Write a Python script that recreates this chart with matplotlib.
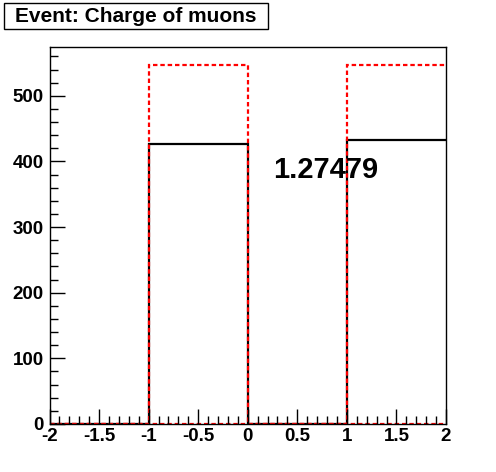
import matplotlib
matplotlib.use('Agg')
import matplotlib.pyplot as plt
from matplotlib.patches import Rectangle
from matplotlib.ticker import MultipleLocator, FuncFormatter
from matplotlib.transforms import ScaledTranslation

# histogram data: charge of muons, two samples
edges = [-2, -1, 0, 1, 2]
counts_black = [0, 427, 0, 432]
counts_red = [0, 547, 0, 547]
ratio_text = '1.27479'
title = 'Event: Charge of muons'

plt.rcParams['font.family'] = ['Liberation Sans', 'DejaVu Sans']
plt.rcParams['font.weight'] = 'bold'

fig = plt.figure(figsize=(4.96, 4.72), dpi=100)
ax = fig.add_axes([49.5 / 496, 48 / 472, (446 - 49.5) / 496, (424 - 47) / 472])

red_style = dict(color='#ff0000', linewidth=1.6, linestyle=(0, (2.0, 1.3)))
ax.stairs(counts_black, edges, color='black', linewidth=1.6, baseline=None)
ax.stairs(counts_red, edges, baseline=None, **red_style)
# ROOT draws empty bins along the zero line too
ax.plot([edges[0], edges[-1]], [0, 0], zorder=1, **red_style)

ax.set_xlim(-2, 2)
ax.set_ylim(0, 1.05 * max(counts_red))

ax.xaxis.set_major_locator(MultipleLocator(0.5))
ax.xaxis.set_minor_locator(MultipleLocator(0.1))
ax.yaxis.set_major_locator(MultipleLocator(100))
ax.yaxis.set_minor_locator(MultipleLocator(20))
ax.xaxis.set_major_formatter(FuncFormatter(lambda v, p: f'{v:g}'))
ax.yaxis.set_major_formatter(FuncFormatter(lambda v, p: f'{v:g}'))
ax.tick_params(which='both', direction='in', top=False, right=False, width=1)
ax.tick_params(which='major', length=11, labelsize=13.5)
ax.tick_params(axis='x', which='major', pad=3)
ax.tick_params(axis='y', which='major', pad=4)
ax.tick_params(which='minor', length=5.5)
for sp in ax.spines.values():
    sp.set_linewidth(1)

fig.canvas.draw()
for lab in ax.get_xticklabels() + ax.get_yticklabels():
    lab.set_fontweight('bold')
# lift the "0" label a little so it clears "-2"
zero_lab = ax.get_yticklabels()[0]
zero_lab.set_transform(zero_lab.get_transform() +
                       ScaledTranslation(0, 3 / 72, fig.dpi_scale_trans))

ax.text(0.26, 387, ratio_text, fontsize=21, fontweight='bold',
        va='center', ha='left')

# title box in the top-left corner
fig.patches.append(Rectangle((4 / 496, 1 - 29 / 472), 264 / 496, 26 / 472,
                             transform=fig.transFigure, facecolor='white',
                             edgecolor='black', linewidth=1))
fig.text(136 / 496, 1 - 16.5 / 472, title, fontsize=15, fontweight='bold',
         ha='center', va='center')

fig.savefig('out.png', dpi=100)
